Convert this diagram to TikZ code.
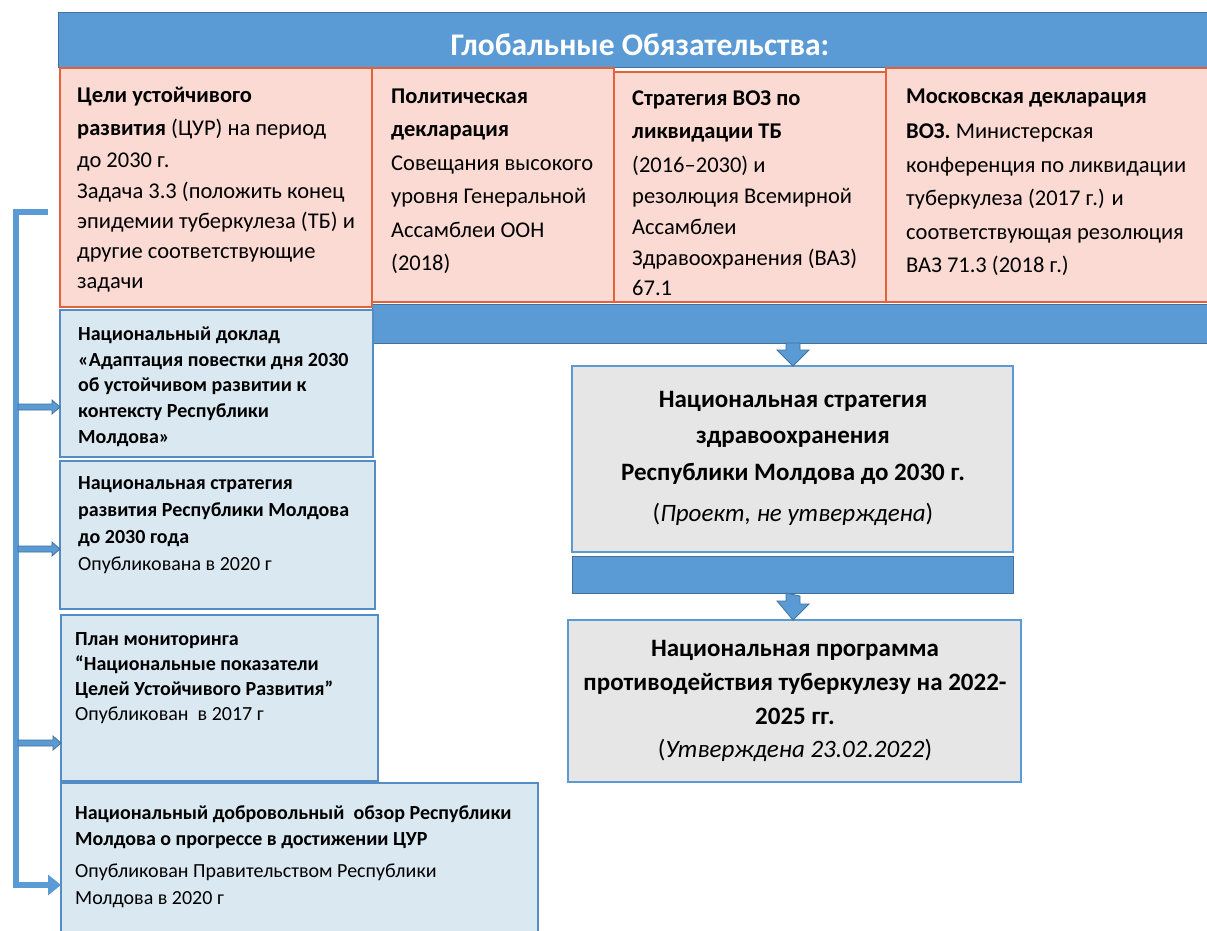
\documentclass[tikz,border=0pt]{standalone}
\usepackage{fontspec}
\setmainfont{Carlito}
\usetikzlibrary{arrows.meta,calc}
\definecolor{barblue}{RGB}{91,155,213}
\definecolor{barline}{RGB}{65,113,156}
\definecolor{pinkfill}{RGB}{250,218,210}
\definecolor{pinkline}{RGB}{226,98,58}
\definecolor{lbfill}{RGB}{218,232,241}
\definecolor{lbline}{RGB}{84,141,196}
\definecolor{grayfill}{RGB}{231,230,230}
\definecolor{grayline}{RGB}{91,155,213}
\tikzset{
  box/.style={anchor=north west, inner sep=0pt, outer sep=0pt, rectangle},
  barbox/.style={box, draw=barline, fill=barblue, line width=1pt},
  pinkbox/.style={box, draw=pinkline, fill=pinkfill, line width=1.8pt},
  lbbox/.style={box, draw=lbline, fill=lbfill, line width=1.2pt},
  graybox/.style={box, draw=grayline, fill=grayfill, line width=1.2pt},
  toptxt/.style={anchor=north west, inner sep=0pt, align=left, font=\fontsize{22.5}{33.5}\selectfont},
  lefttxt/.style={anchor=north west, inner sep=0pt, align=left, font=\fontsize{20}{25.5}\selectfont},
  graytxt/.style={anchor=north, inner sep=0pt, align=center, font=\fontsize{25}{36.5}\selectfont},
  blockarrow/.style={fill=barblue, draw=barline, line width=0.8pt},
  bracketline/.style={draw=barblue, line width=6pt},
}
\begin{document}
\begin{tikzpicture}[x=1pt,y=-1pt]
\useasboundingbox (0,0) rectangle (1207,931);
\fill[white] (0,0) rectangle (1207,931);

% title banner
\node[barbox, minimum width=1160, minimum height=55] (banner) at (58,13) {};
\node[text=white, font=\bfseries\fontsize{31.5}{34}\selectfont, inner sep=0pt] (title) at (640,45) {Глобальные Обязательства:};

% lower blue bar
\node[barbox, minimum width=845, minimum height=39] (bar1) at (372,304) {};

% pink boxes
\node[pinkbox, minimum width=312, minimum height=239] (g1) at (60,68) {};
\node[pinkbox, minimum width=242, minimum height=234] (g2) at (372,68) {};
\node[pinkbox, minimum width=272, minimum height=230] (g3) at (614,72) {};
\node[pinkbox, minimum width=330, minimum height=234] (g4) at (886,68) {};

\node[toptxt] (g1t) at (77,86.5) {\textbf{Цели устойчивого}\\
\textbf{развития} (ЦУР) на период\\[-1.5pt]
до 2030 г.\\[-3pt]
Задача 3.3 (положить конец\\[-3.5pt]
эпидемии туберкулеза (ТБ) и\\[-3.5pt]
другие соответствующие\\[-3pt]
задачи};
\node[toptxt] (g2t) at (391,88.5) {\textbf{Политическая}\\
\textbf{декларация}\\
Совещания высокого\\
уровня Генеральной\\
Ассамблеи ООН\\
(2018)};
\node[toptxt] (g3t) at (632,90.5) {\textbf{Стратегия ВОЗ по}\\
\textbf{ликвидации ТБ}\\
(2016–2030) и\\[-2.5pt]
резолюция Всемирной\\[-2pt]
Ассамблеи\\[-3pt]
Здравоохранения (ВАЗ)\\[-3.5pt]
67.1};
\node[toptxt] (g4t) at (906,88.5) {\textbf{Московская декларация}\\[2pt]
\textbf{ВОЗ.} Министерская\\
конференция по ликвидации\\
туберкулеза (2017 г.) и\\
соответствующая резолюция\\
ВАЗ 71.3 (2018 г.)};

% left light-blue boxes
\node[lbbox, minimum width=313, minimum height=147] (b1) at (60,310) {};
\node[lbbox, minimum width=315, minimum height=148] (b2) at (60,461) {};
\node[lbbox, minimum width=317, minimum height=166] (b3) at (61,615) {};
\node[lbbox, minimum width=477, minimum height=160] (b4) at (61,783) {};

\node[lefttxt] (b1t) at (78,327) {\textbf{Национальный доклад}\\
\textbf{«Адаптация повестки дня 2030}\\
\textbf{об устойчивом развитии к}\\
\textbf{контексту Республики}\\[0.5pt]
\textbf{Молдова»}};
\node[lefttxt] (b2t) at (78,476) {\textbf{Национальная стратегия}\\[1.5pt]
\textbf{развития Республики Молдова}\\[2pt]
\textbf{до 2030 года}\\[1.5pt]
Опубликована в 2020 г};
\node[lefttxt] (b3t) at (75,632) {\textbf{План мониторинга}\\[-0.5pt]
\textbf{“Национальные показатели}\\[-0.5pt]
\textbf{Целей Устойчивого Развития”}\\[-0.5pt]
Опубликован~ в 2017 г};
\node[lefttxt] (b4t) at (75,806) {\textbf{Национальный добровольный~ обзор Республики}\\
\textbf{Молдова о прогрессе в достижении ЦУР}\\[6.5pt]
Опубликован Правительством Республики\\[1.5pt]
Молдова в 2020 г};

% gray boxes
\node[graybox, minimum width=441, minimum height=186] (s1) at (572,366) {};
\node[barbox, minimum width=441, minimum height=37] (bar2) at (572,556) {};
\node[graybox, minimum width=453, minimum height=162] (s2) at (568,620) {};

\node[graytxt] (s1t) at (793,391) {\textbf{Национальная стратегия}\\
\textbf{здравоохранения}\\
\textbf{Республики Молдова до 2030 г.}\\[4.5pt]
(\textit{Проект, не утверждена})};
\node[graytxt] (s2t) at (795,640) {\textbf{Национальная программа}\\[-2.5pt]
\textbf{противодействия туберкулезу на 2022-}\\[-2.5pt]
\textbf{2025 гг.}\\[-3.5pt]
(\textit{Утверждена 23.02.2022})};

% block arrows down
\coordinate (a1) at (bar1.south -| s1t.north);
\filldraw[blockarrow] (a1) ++(-7,0) -- ++(0,7) -- ++(-9,0) -- (s1.north -| a1) -- ++(16,-16) -- ++(-9,0) -- ++(0,-7) -- cycle;
\coordinate (a2) at (bar2.south -| s1t.north);
\filldraw[blockarrow] (a2) ++(-7,0) -- ++(0,8) -- ++(-9,0) -- (s2.north -| a2) -- ++(16,-16) -- ++(-9,0) -- ++(0,-8) -- cycle;

% left bracket
\coordinate (br0) at (48,212);
\coordinate (br1) at (16,212);
\coordinate (br2) at (16,885);
\draw[bracketline, -{Triangle[length=13pt,width=20pt]}] (br0) -- (br1) -- (br2) -- (br2 -| b4.west);

\coordinate (c1) at (16,407);
\coordinate (c2) at (16,549);
\coordinate (c3) at (16,743);
\foreach \c/\b in {c1/b1, c2/b2, c3/b3}{
  \filldraw[blockarrow] (\c) ++(2,-3) -- ($(\c -| \b.west)+(-8,-3)$) -- ++(0,-4) -- (\c -| \b.west) -- ($(\c -| \b.west)+(-8,7)$) -- ++(0,-4) -- ($(\c)+(2,3)$) -- cycle;
}
\end{tikzpicture}
\end{document}
